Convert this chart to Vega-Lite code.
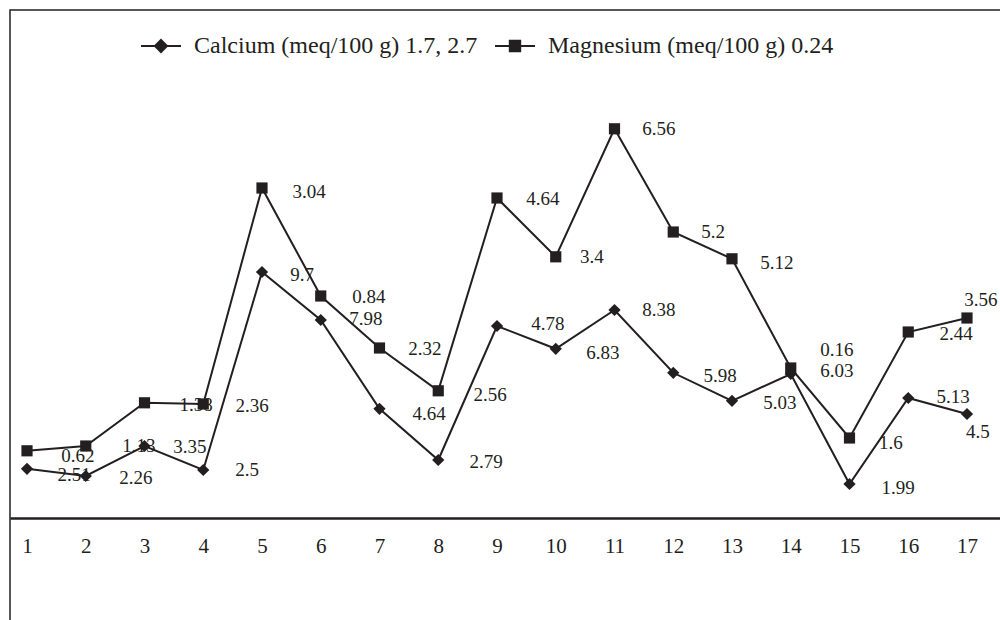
{
  "$schema": "https://vega.github.io/schema/vega-lite/v6.json",
  "width": 1000,
  "height": 620,
  "autosize": {"type": "none"},
  "padding": {"left": 10, "top": 10, "right": 0, "bottom": 0},
  "background": "white",
  "config": {
    "view": {"stroke": "#231f20", "strokeWidth": 1.5},
    "font": "Liberation Serif, Times New Roman, serif"
  },
  "datasets": {
    "pts": [
      {"i": 1, "series": "Calcium (meq/100 g) 1.7, 2.7", "v": 1.23},
      {"i": 2, "series": "Calcium (meq/100 g) 1.7, 2.7", "v": 1.05},
      {"i": 3, "series": "Calcium (meq/100 g) 1.7, 2.7", "v": 1.8},
      {"i": 4, "series": "Calcium (meq/100 g) 1.7, 2.7", "v": 1.2},
      {"i": 5, "series": "Calcium (meq/100 g) 1.7, 2.7", "v": 6.15},
      {"i": 6, "series": "Calcium (meq/100 g) 1.7, 2.7", "v": 4.95},
      {"i": 7, "series": "Calcium (meq/100 g) 1.7, 2.7", "v": 2.73},
      {"i": 8, "series": "Calcium (meq/100 g) 1.7, 2.7", "v": 1.45},
      {"i": 9, "series": "Calcium (meq/100 g) 1.7, 2.7", "v": 4.8},
      {"i": 10, "series": "Calcium (meq/100 g) 1.7, 2.7", "v": 4.23},
      {"i": 11, "series": "Calcium (meq/100 g) 1.7, 2.7", "v": 5.2},
      {"i": 12, "series": "Calcium (meq/100 g) 1.7, 2.7", "v": 3.63},
      {"i": 13, "series": "Calcium (meq/100 g) 1.7, 2.7", "v": 2.93},
      {"i": 14, "series": "Calcium (meq/100 g) 1.7, 2.7", "v": 3.6},
      {"i": 15, "series": "Calcium (meq/100 g) 1.7, 2.7", "v": 0.85},
      {"i": 16, "series": "Calcium (meq/100 g) 1.7, 2.7", "v": 3.0},
      {"i": 17, "series": "Calcium (meq/100 g) 1.7, 2.7", "v": 2.6},
      {"i": 1, "series": "Magnesium (meq/100 g) 0.24", "v": 1.68},
      {"i": 2, "series": "Magnesium (meq/100 g) 0.24", "v": 1.8},
      {"i": 3, "series": "Magnesium (meq/100 g) 0.24", "v": 2.88},
      {"i": 4, "series": "Magnesium (meq/100 g) 0.24", "v": 2.85},
      {"i": 5, "series": "Magnesium (meq/100 g) 0.24", "v": 8.25},
      {"i": 6, "series": "Magnesium (meq/100 g) 0.24", "v": 5.55},
      {"i": 7, "series": "Magnesium (meq/100 g) 0.24", "v": 4.25},
      {"i": 8, "series": "Magnesium (meq/100 g) 0.24", "v": 3.18},
      {"i": 9, "series": "Magnesium (meq/100 g) 0.24", "v": 8.0},
      {"i": 10, "series": "Magnesium (meq/100 g) 0.24", "v": 6.53},
      {"i": 11, "series": "Magnesium (meq/100 g) 0.24", "v": 9.73},
      {"i": 12, "series": "Magnesium (meq/100 g) 0.24", "v": 7.15},
      {"i": 13, "series": "Magnesium (meq/100 g) 0.24", "v": 6.48},
      {"i": 14, "series": "Magnesium (meq/100 g) 0.24", "v": 3.75},
      {"i": 15, "series": "Magnesium (meq/100 g) 0.24", "v": 2.0},
      {"i": 16, "series": "Magnesium (meq/100 g) 0.24", "v": 4.65},
      {"i": 17, "series": "Magnesium (meq/100 g) 0.24", "v": 5.0}
    ],
    "labels": [
      {"x": 1.8, "y": 1.08, "label": "2.51"},
      {"x": 1.868, "y": 1.56, "label": "0.62"},
      {"x": 2.855, "y": 1.0, "label": "2.26"},
      {"x": 2.906, "y": 1.8, "label": "1.13"},
      {"x": 3.774, "y": 1.775, "label": "3.35"},
      {"x": 3.877, "y": 2.825, "label": "1.38"},
      {"x": 4.83, "y": 2.8, "label": "2.36"},
      {"x": 4.745, "y": 1.2, "label": "2.5"},
      {"x": 5.8, "y": 8.15, "label": "3.04"},
      {"x": 5.681, "y": 6.075, "label": "9.7"},
      {"x": 6.821, "y": 5.525, "label": "0.84"},
      {"x": 6.77, "y": 4.975, "label": "7.98"},
      {"x": 7.774, "y": 4.225, "label": "2.32"},
      {"x": 7.843, "y": 2.6, "label": "4.64"},
      {"x": 8.881, "y": 3.075, "label": "2.56"},
      {"x": 8.813, "y": 1.4, "label": "2.79"},
      {"x": 9.783, "y": 7.975, "label": "4.64"},
      {"x": 10.617, "y": 6.525, "label": "3.4"},
      {"x": 11.757, "y": 9.725, "label": "6.56"},
      {"x": 9.868, "y": 4.85, "label": "4.78"},
      {"x": 10.804, "y": 4.125, "label": "6.83"},
      {"x": 11.757, "y": 5.2, "label": "8.38"},
      {"x": 12.677, "y": 7.15, "label": "5.2"},
      {"x": 13.766, "y": 6.375, "label": "5.12"},
      {"x": 12.796, "y": 3.55, "label": "5.98"},
      {"x": 13.817, "y": 2.875, "label": "5.03"},
      {"x": 14.787, "y": 4.2, "label": "0.16"},
      {"x": 14.787, "y": 3.675, "label": "6.03"},
      {"x": 15.706, "y": 1.875, "label": "1.6"},
      {"x": 15.826, "y": 0.75, "label": "1.99"},
      {"x": 16.762, "y": 3.025, "label": "5.13"},
      {"x": 17.187, "y": 2.15, "label": "4.5"},
      {"x": 17.238, "y": 5.45, "label": "3.56"},
      {"x": 16.813, "y": 4.6, "label": "2.44"}
    ]
  },
  "layer": [
    {
      "data": {"name": "labels"},
      "mark": {"type": "text", "font": "Liberation Serif, Times New Roman, serif", "fontSize": 19, "color": "#231f20", "align": "center", "baseline": "middle"},
      "encoding": {
        "x": {"field": "x", "type": "quantitative", "scale": {"domain": [0.7106, 17.732], "nice": false, "zero": false},
          "axis": {"values": [1,2,3,4,5,6,7,8,9,10,11,12,13,14,15,16,17], "format": "d", "title": null, "offset": -112, "grid": false, "ticks": false, "domainColor": "#231f20", "domainWidth": 2.5, "labelFont": "Liberation Serif, Times New Roman, serif", "labelFontSize": 21, "labelColor": "#231f20", "labelPadding": 17, "labelFlush": false, "labelOverlap": false}},
        "y": {"field": "y", "type": "quantitative", "scale": {"domain": [-2.8, 12.7], "nice": false, "zero": false}, "axis": null},
        "text": {"field": "label"}
      }
    },
    {
      "data": {"name": "pts"},
      "mark": {"type": "line", "color": "#231f20", "strokeWidth": 2},
      "encoding": {
        "x": {"field": "i", "type": "quantitative", "scale": {"domain": [0.7106, 17.732], "nice": false, "zero": false},
          "axis": {"values": [1,2,3,4,5,6,7,8,9,10,11,12,13,14,15,16,17], "format": "d", "title": null, "offset": -112, "grid": false, "ticks": false, "domainColor": "#231f20", "domainWidth": 2.5, "labelFont": "Liberation Serif, Times New Roman, serif", "labelFontSize": 21, "labelColor": "#231f20", "labelPadding": 17, "labelFlush": false, "labelOverlap": false}},
        "y": {"field": "v", "type": "quantitative", "scale": {"domain": [-2.8, 12.7], "nice": false, "zero": false}, "axis": null},
        "detail": {"field": "series"},
        "order": {"field": "i"}
      }
    },
    {
      "data": {"name": "pts"},
      "mark": {"type": "point", "filled": true, "color": "#231f20", "opacity": 1},
      "encoding": {
        "x": {"field": "i", "type": "quantitative", "scale": {"domain": [0.7106, 17.732], "nice": false, "zero": false},
          "axis": {"values": [1,2,3,4,5,6,7,8,9,10,11,12,13,14,15,16,17], "format": "d", "title": null, "offset": -112, "grid": false, "ticks": false, "domainColor": "#231f20", "domainWidth": 2.5, "labelFont": "Liberation Serif, Times New Roman, serif", "labelFontSize": 21, "labelColor": "#231f20", "labelPadding": 17, "labelFlush": false, "labelOverlap": false}},
        "y": {"field": "v", "type": "quantitative", "scale": {"domain": [-2.8, 12.7], "nice": false, "zero": false}, "axis": null},
        "shape": {"field": "series", "type": "nominal", "scale": {"domain": ["Calcium (meq/100 g) 1.7, 2.7", "Magnesium (meq/100 g) 0.24"], "range": ["diamond", "square"]}, "legend": null},
        "size": {"field": "series", "type": "nominal", "scale": {"domain": ["Calcium (meq/100 g) 1.7, 2.7", "Magnesium (meq/100 g) 0.24"], "range": [150, 125]}, "legend": null}
      }
    },
    {
      "data": {"name": "pts"},
      "transform": [{"filter": "false"}],
      "mark": {"type": "point", "filled": false, "color": "#231f20", "opacity": 1, "strokeWidth": 2},
      "encoding": {
        "x": {"field": "i", "type": "quantitative", "scale": {"domain": [0.7106, 17.732], "nice": false, "zero": false},
          "axis": {"values": [1,2,3,4,5,6,7,8,9,10,11,12,13,14,15,16,17], "format": "d", "title": null, "offset": -112, "grid": false, "ticks": false, "domainColor": "#231f20", "domainWidth": 2.5, "labelFont": "Liberation Serif, Times New Roman, serif", "labelFontSize": 21, "labelColor": "#231f20", "labelPadding": 17, "labelFlush": false, "labelOverlap": false}},
        "y": {"field": "v", "type": "quantitative", "scale": {"domain": [-2.8, 12.7], "nice": false, "zero": false}, "axis": null},
        "shape": {"field": "series", "type": "nominal",
          "scale": {"domain": ["Calcium (meq/100 g) 1.7, 2.7", "Magnesium (meq/100 g) 0.24"], "range": ["M-1,0L1,0M0,-0.3L0.3,0L0,0.3L-0.3,0ZM0,-0.2L0.2,0L0,0.2L-0.2,0ZM0,-0.1L0.1,0L0,0.1L-0.1,0Z", "M-1,0L1,0M-0.26,-0.26L0.26,-0.26L0.26,0.26L-0.26,0.26ZM-0.18,-0.18L0.18,-0.18L0.18,0.18L-0.18,0.18ZM-0.1,-0.1L0.1,-0.1L0.1,0.1L-0.1,0.1ZM-0.03,-0.03L0.03,-0.03L0.03,0.03L-0.03,0.03Z"]},
          "legend": {"title": null, "orient": "none", "legendX": 130, "legendY": 15, "direction": "horizontal", "padding": 0, "symbolSize": 1600, "symbolStrokeWidth": 2, "symbolStrokeColor": "#231f20", "symbolOpacity": 1, "labelFont": "Liberation Serif, Times New Roman, serif", "labelFontSize": 24, "labelColor": "#231f20", "labelLimit": 600, "labelOffset": 12, "columnPadding": 13}}
      }
    }
  ],
  "resolve": {"scale": {"shape": "independent", "size": "independent"}}
}
